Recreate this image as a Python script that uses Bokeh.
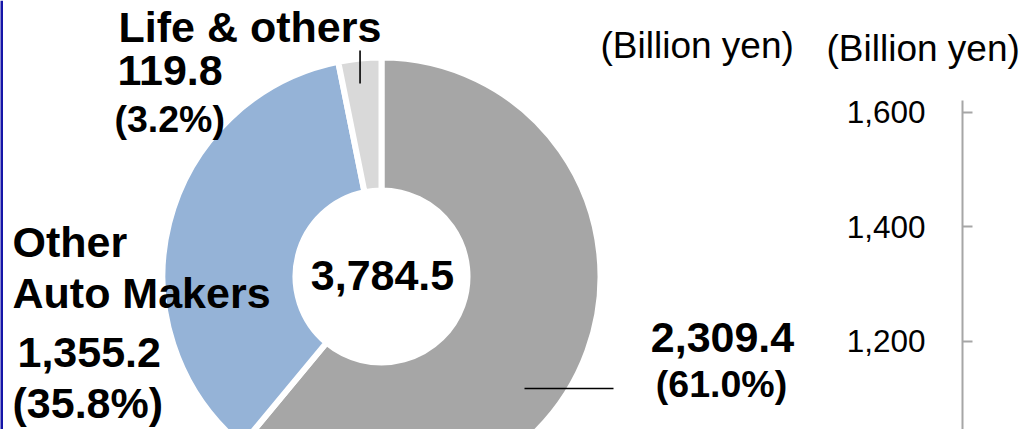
import math

from bokeh.core.properties import value
from bokeh.embed import file_html
from bokeh.models import (ColumnDataSource, FixedTicker, LinearAxis,
                          NumeralTickFormatter, Range1d, Span)
from bokeh.plotting import figure
from bokeh.resources import INLINE

# ---- data ---------------------------------------------------------------
segment_values = [2309.4, 1355.2, 119.8]          # billion yen
segment_shares = ["(61.0%)", "(35.8%)", "(3.2%)"]
segment_colors = ["#A6A6A6", "#95B3D7", "#D9D9D9"]
total_value = 3784.5
bar_axis_ticks = [1200, 1400, 1600]
unit_label = "(Billion yen)"

W, H = 1024, 429
FONT = "Liberation Sans"
BIG, SMALL, UNIT = 43, 37.5, 37

p = figure(width=W, height=H, output_backend="svg", toolbar_location=None,
           x_range=Range1d(0, W), y_range=Range1d(0, H),
           x_axis_location=None, y_axis_location=None, min_border=0)
p.grid.visible = False
p.outline_line_color = None
p.background_fill_color = "white"
p.border_fill_color = "white"


def sy(y):
    """Top-down pixel row -> data y."""
    return H - y


# ---- donut ---------------------------------------------------------------
cx, cy = 381, sy(276)
total = sum(segment_values)
starts, ends, cum = [], [], 0.0
for v in segment_values:
    starts.append(math.pi / 2 - 2 * math.pi * cum / total)
    cum += v
    ends.append(math.pi / 2 - 2 * math.pi * cum / total)

src = ColumnDataSource(dict(start=starts, end=ends, color=segment_colors))
p.annular_wedge(x=cx, y=cy, inner_radius=86, outer_radius=219,
                start_angle="start", end_angle="end", direction="clock",
                fill_color="color", line_color="white", line_width=6,
                source=src)

# leader line for the small slice, at its mid angle
mid_small = (starts[2] + ends[2]) / 2
lx = cx + 216 * math.cos(mid_small)
p.segment(x0=[lx], y0=[sy(50)], x1=[lx], y1=[sy(83)],
          line_color="black", line_width=1.6)
# leader line for the large slice
p.segment(x0=[524], y0=[sy(388)], x1=[613], y1=[sy(388)],
          line_color="black", line_width=1.6)


def txt(x, y, s, size, bold=True, align="left"):
    # y is the wanted baseline row; the text baseline sits a little low
    y_adj = y - 0.36 * size
    p.text(x=[x], y=[sy(y_adj)], text=[s], text_font=value(FONT),
           text_font_size=f"{size}px",
           text_font_style="bold" if bold else "normal",
           text_align=align, text_baseline="alphabetic", text_color="black")


def fmt(v):
    return f"{v:,.1f}"


# centre total
txt(382, 290, fmt(total_value), BIG, align="center")

# large slice
txt(722, 352, fmt(segment_values[0]), BIG, align="center")
txt(721, 397, segment_shares[0], SMALL, align="center")

# other auto makers
txt(12, 257, "Other", BIG)
txt(12, 308, "Auto Makers", BIG)
txt(17, 367, fmt(segment_values[1]), BIG)
txt(12, 418, segment_shares[1], BIG)

# life & others
txt(118, 42, "Life & others", BIG)
txt(117, 85, fmt(segment_values[2]), BIG)
txt(114, 132, segment_shares[2], SMALL)

# unit labels
txt(600, 58, unit_label, UNIT, bold=False)
txt(826, 61, unit_label, UNIT, bold=False)

# ---- axis of the neighbouring bar chart ---------------------------------
px_per_unit = 114.6 / 200.0
y_at_1200 = 340.7
lo = 1200 - (H - y_at_1200) / px_per_unit
hi = 1200 + y_at_1200 / px_per_unit
p.extra_y_ranges = {"bar": Range1d(lo, hi)}
bar_axis = LinearAxis(y_range_name="bar", fixed_location=962,
                      bounds=(900, 1620),
                      ticker=FixedTicker(ticks=bar_axis_ticks),
                      formatter=NumeralTickFormatter(format="0,0"),
                      major_tick_in=10, major_tick_out=0,
                      minor_tick_in=0, minor_tick_out=0,
                      axis_line_color="#A6A6A6", axis_line_width=2,
                      major_tick_line_color="#A6A6A6",
                      major_tick_line_width=2,
                      major_label_standoff=37,
                      major_label_text_font=FONT,
                      major_label_text_font_size="31.5px",
                      major_label_text_color="black")
p.add_layout(bar_axis, "left")

# left edge rule
p.add_layout(Span(location=1, dimension="height", line_color="#1515A8",
                  line_width=3))

open("out.html", "w").write(file_html(p, INLINE))
